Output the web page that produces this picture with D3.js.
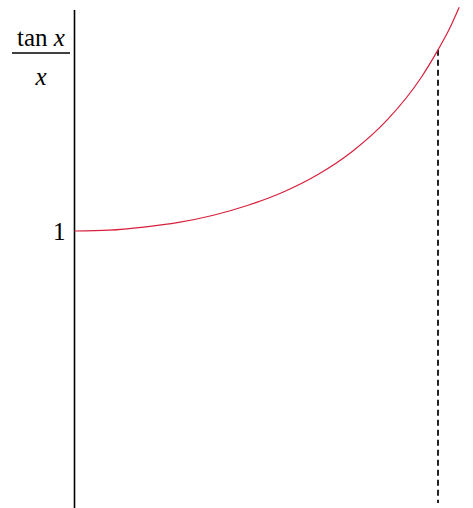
<!DOCTYPE html>
<meta charset="utf-8">
<style>

body {
  margin: 0;
  background: #fff;
}

.curve {
  fill: none;
  stroke: #d8203c;
  stroke-width: 1.2px;
}

.axis-line {
  stroke: #000;
  stroke-width: 1.6px;
}

.marker {
  stroke: #222;
  stroke-width: 2px;
  stroke-dasharray: 6 4;
}

text {
  font-family: "Liberation Serif", "Times New Roman", serif;
  font-size: 25px;
  fill: #000;
}

</style>
<svg width="473" height="508"></svg>
<script src="https://d3js.org/d3.v7.min.js"></script>
<script>

// values: x in radians, y = tan x / x
var xs = [0, 0.1, 0.2, 0.3, 0.4, 0.5, 0.6, 0.7, 0.8, 0.9, 1.0, 1.047, 1.08, 1.108];
var ys = [1, 1.003, 1.014, 1.031, 1.057, 1.093, 1.140, 1.203, 1.287, 1.400, 1.557, 1.654, 1.73, 1.808];

var markerX = 1.047;   // dashed line position
var markerY = 1.654;
var yTicks = [1];

var svg = d3.select("svg"),
    width = +svg.attr("width"),
    height = +svg.attr("height");

var x = d3.scaleLinear()
    .domain([0, markerX])
    .range([74.5, 438]);

var y = d3.scaleLinear()
    .domain([0, 1])
    .range([508, 231]);

var line = d3.line()
    .x(function(d) { return x(d[0]); })
    .y(function(d) { return y(d[1]); })
    .curve(d3.curveMonotoneX);

svg.append("line")
    .attr("class", "axis-line")
    .attr("x1", x(0))
    .attr("x2", x(0))
    .attr("y1", 10)
    .attr("y2", height);

svg.append("line")
    .attr("class", "marker")
    .attr("x1", x(markerX))
    .attr("x2", x(markerX))
    .attr("y1", y(markerY))
    .attr("y2", 503);

svg.append("path")
    .datum(d3.zip(xs, ys))
    .attr("class", "curve")
    .attr("d", line);

svg.selectAll(".tick")
  .data(yTicks)
  .enter().append("text")
    .attr("class", "tick")
    .attr("x", x(0) - 9)
    .attr("y", function(d) { return y(d); })
    .attr("dy", "0.35em")
    .attr("text-anchor", "end")
    .text(function(d) { return d; });

// axis title: tan x / x
var title = svg.append("g")
    .attr("transform", "translate(41,0)");

var num = title.append("text")
    .attr("y", 46)
    .attr("text-anchor", "middle");
num.append("tspan").text("tan ");
num.append("tspan").attr("font-style", "italic").text("x");

title.append("line")
    .attr("x1", -29)
    .attr("x2", 29)
    .attr("y1", 53)
    .attr("y2", 53)
    .attr("stroke", "#000")
    .attr("stroke-width", 1.5);

title.append("text")
    .attr("y", 85)
    .attr("text-anchor", "middle")
    .attr("font-style", "italic")
    .text("x");

</script>
